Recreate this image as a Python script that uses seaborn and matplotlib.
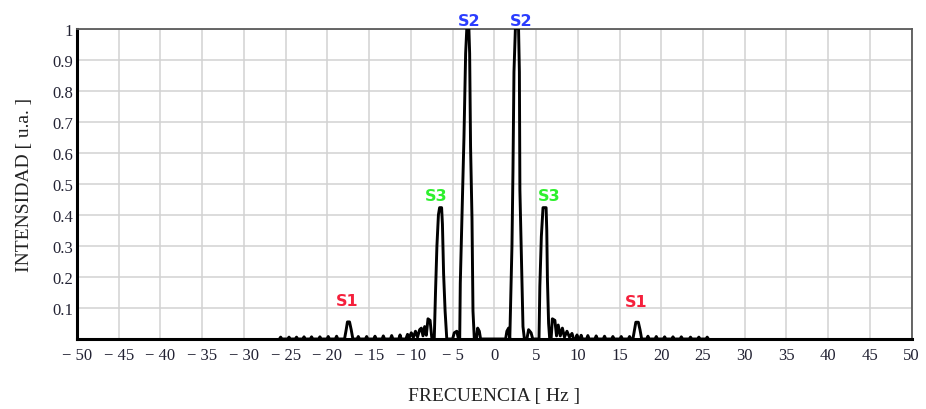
import matplotlib
matplotlib.use("Agg")
import matplotlib.pyplot as plt
import seaborn as sns
import pandas as pd

# ---------------- data ----------------
freq = [
    # left floor ripples
    -25.75, -25.6, -25.45, -24.75, -24.6, -24.45, -23.85, -23.7, -23.55,
    -22.95, -22.8, -22.65, -22.05, -21.9, -21.75, -21.05, -20.9, -20.75,
    -20.05, -19.9, -19.75, -19.05, -18.9, -18.75,
    # S1 (left)
    -17.95, -17.75, -17.6, -17.35, -17.15, -16.95,
    # floor
    -16.45, -16.3, -16.15, -15.45, -15.3, -15.15, -14.45, -14.3, -14.15,
    -13.45, -13.3, -13.15, -12.45, -12.3, -12.15, -11.45, -11.3, -11.15,
    # side lobes before S3
    -10.6, -10.4, -10.2, -9.95, -9.7, -9.45, -9.2, -8.95, -8.75, -8.55,
    -8.35, -8.15, -7.95, -7.7, -7.5, -7.2,
    # S3 (left)
    -7.05, -6.88, -6.7, -6.56, -6.32, -6.22, -6.08, -5.9, -5.7,
    -5.0, -4.8, -4.5, -4.3, -4.15,
    # S2 (left)
    -4.08, -3.88, -3.64, -3.44, -3.3, -3.05, -2.96, -2.85, -2.68, -2.56, -2.4,
    -2.15, -2.0, -1.8, -1.65,
    1.35, 1.5, 1.7, 1.85,
    # S2 (right)
    1.95, 2.11, 2.23, 2.35, 2.52, 2.9, 3.0, 3.06, 3.24, 3.43, 3.6,
    3.9, 4.1, 4.4, 4.6,
    # S3 (right)
    5.35, 5.45, 5.63, 5.83, 6.2, 6.28, 6.36, 6.5, 6.63,
    # side lobes after S3
    6.8, 6.95, 7.25, 7.45, 7.65, 7.9, 8.15, 8.4, 8.7, 9.0, 9.3, 9.5,
    9.75, 9.9, 10.05,
    # right floor ripples
    10.25, 10.4, 10.55, 11.05, 11.2, 11.35, 12.05, 12.2, 12.35,
    13.05, 13.2, 13.35, 14.05, 14.2, 14.35, 15.05, 15.2, 15.35,
    16.05, 16.2, 16.35,
    # S1 (right)
    16.6, 16.8, 16.95, 17.25, 17.45, 17.65,
    # right floor ripples
    18.25, 18.4, 18.55, 19.25, 19.4, 19.55, 20.25, 20.4, 20.55,
    21.25, 21.4, 21.55, 22.25, 22.4, 22.55, 23.35, 23.5, 23.65,
    24.35, 24.5, 24.65, 25.35, 25.5, 25.65,
]
intensity = [
    0, .006, 0, 0, .006, 0, 0, .006, 0,
    0, .007, 0, 0, .007, 0, 0, .007, 0,
    0, .008, 0, 0, .009, 0,
    0, .03, .055, .055, .03, 0,
    0, .008, 0, 0, .008, 0, 0, .009, 0,
    0, .01, 0, 0, .011, 0, 0, .013, 0,
    0, .015, .004, .02, .005, .025, .006, .03, .035, .01,
    .04, .012, .065, .06, .005, 0,
    .15, .30, .40, .423, .423, .37, .21, .09, 0,
    0, .02, .025, 0, 0,
    .18, .40, .65, .92, 1.0, 1.0, .92, .62, .39, .09, 0,
    0, .035, .025, 0,
    0, .025, .035, 0,
    .12, .30, .54, .86, 1.0, 1.0, .86, .48, .26, .04, 0,
    0, .03, .02, 0,
    0, .17, .33, .423, .423, .35, .19, .05, 0,
    0, .065, .06, .01, .045, .01, .035, .006, .025, .006, .018, 0,
    0, .013, 0,
    0, .012, 0, 0, .011, 0, 0, .01, 0,
    0, .009, 0, 0, .008, 0, 0, .008, 0,
    0, .008, 0,
    0, .03, .054, .054, .03, 0,
    0, .009, 0, 0, .008, 0, 0, .007, 0,
    0, .007, 0, 0, .007, 0, 0, .006, 0,
    0, .006, 0, 0, .006, 0,
]

peak_labels = ["S1", "S3", "S2", "S2", "S3", "S1"]
peak_label_freq = [-17.63, -6.95, -2.96, 3.24, 6.51, 17.03]
peak_label_int = [0.123, 0.461, 1.027, 1.027, 0.461, 0.121]
label_colors = {"S1": "#f5203c", "S2": "#2b3dff", "S3": "#2ef02e"}

x_ticks = list(range(-50, 51, 5))
y_ticks = [0.1, 0.2, 0.3, 0.4, 0.5, 0.6, 0.7, 0.8, 0.9, 1.0]
y_tick_labels = ["0.1", "0.2", "0.3", "0.4", "0.5", "0.6", "0.7", "0.8", "0.9", "1"]

# ---------------- figure ----------------
sns.set_style("white")
plt.rcParams["font.family"] = ["Liberation Serif", "DejaVu Serif"]

fig = plt.figure(figsize=(9.26, 4.10), dpi=100)
ax = fig.add_axes([77 / 926, 1 - 340 / 410, (911.7 - 77) / 926, (340 - 29.5) / 410])

df = pd.DataFrame({"freq": freq, "intensity": intensity})
sns.lineplot(data=df, x="freq", y="intensity", sort=False, estimator=None,
             color="black", linewidth=2.1, ax=ax, zorder=3)

ax.set_xlim(-50, 50)
ax.set_ylim(0, 1)
ax.set_xticks(x_ticks)
ax.set_xticklabels([("\u2212 %d" % -t) if t < 0 else "%d" % t for t in x_ticks])
ax.set_yticks(y_ticks)
ax.set_yticklabels(y_tick_labels)
ax.tick_params(axis="both", length=0, labelsize=12, labelcolor="#222233")
ax.tick_params(axis="x", pad=6)
ax.tick_params(axis="y", pad=3)

ax.grid(True, color="#d2d2d2", linewidth=1.1, zorder=0)
ax.set_axisbelow(True)

for side in ["left", "bottom"]:
    ax.spines[side].set_color("black")
    ax.spines[side].set_linewidth(2.2)
for side in ["top", "right"]:
    ax.spines[side].set_color("#5a5a5a")
    ax.spines[side].set_linewidth(1.3)
    ax.spines[side].set_visible(True)

ax.set_xlabel("FRECUENCIA [ Hz ]", fontsize=14, color="#222222")
ax.set_ylabel("INTENSIDAD [ u.a. ]", fontsize=14, color="#222222")
ax.xaxis.set_label_coords(0.5, (340 - 388) / 311)
ax.yaxis.set_label_coords((33 - 77) / 834.7, 0.5)

for lab, fx, fy in zip(peak_labels, peak_label_freq, peak_label_int):
    ax.text(fx, fy, lab, color=label_colors[lab], fontsize=11.5, fontweight="bold",
            family="DejaVu Sans", ha="center", va="center", clip_on=False, zorder=5)

fig.savefig("out.png", dpi=100, facecolor="white")
